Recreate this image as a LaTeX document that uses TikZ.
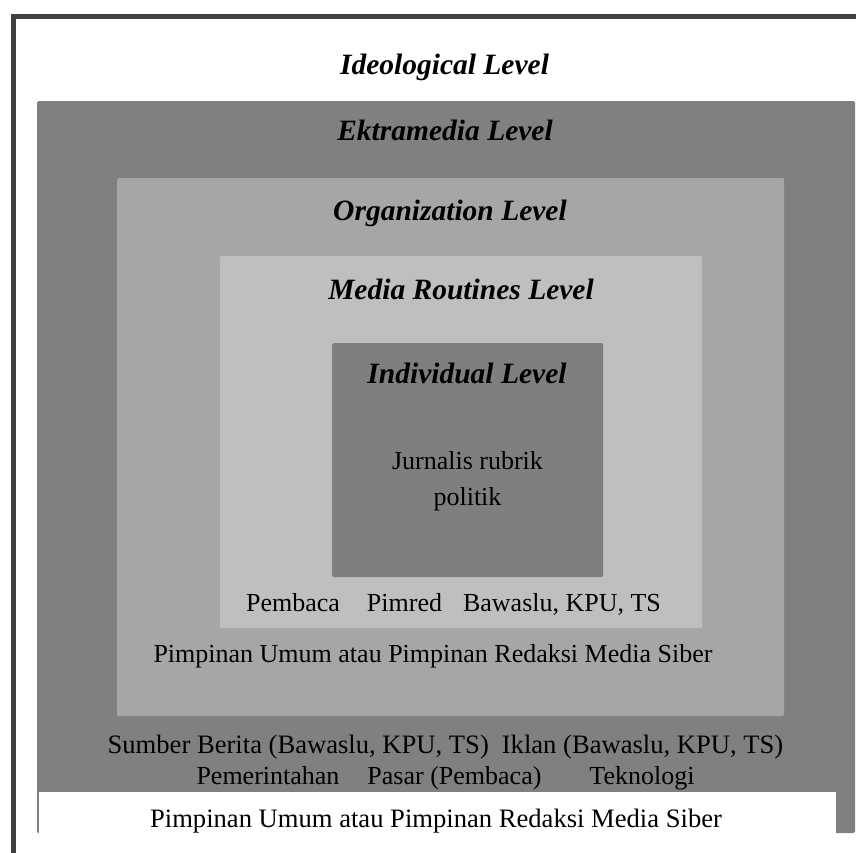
\documentclass[tikz,border=0pt]{standalone}
\usepackage{fontspec}
\setmainfont{Liberation Serif}
\definecolor{framec}{HTML}{404040}
\definecolor{extc}{HTML}{808080}
\definecolor{orgc}{HTML}{A6A6A6}
\definecolor{medc}{HTML}{BFBFBF}
\definecolor{indc}{HTML}{7F7F7F}
\tikzset{
  lvlbox/.style={rounded corners=1.5pt},
  titletext/.style={inner sep=0pt, anchor=base, font=\fontsize{29.5}{34}\selectfont\bfseries\itshape},
  bodytext/.style={inner sep=0pt, anchor=base, font=\fontsize{26}{30}\selectfont},
  bodywide/.style={inner sep=0pt, anchor=base, font=\fontsize{26.6}{30}\selectfont}
}
\begin{document}
\begin{tikzpicture}[x=1pt,y=-1pt]
\useasboundingbox (0,0) rectangle (856,852);
\fill[white] (0,0) rectangle (856,852);
% outer frame (open to the right and bottom)
\draw[framec, line width=5pt] (13.5,860) -- (13.5,16.5) -- (862,16.5);
% level boxes
\fill[extc, lvlbox] (37,101) rectangle (855,833);
\fill[white] (38.5,792) rectangle (836,860);
\fill[orgc, lvlbox] (117,178) rectangle (784,716);
\fill[medc, lvlbox] (220,256) rectangle (702,628);
\fill[indc, lvlbox] (332,343) rectangle (603,577);
% titles
\node[titletext] (ideo) at (444.5,74) {Ideological Level};
\node[titletext] (ext) at (445,140) {Ektramedia Level};
\node[titletext] (org) at (450,220) {Organization Level};
\node[titletext] (med) at (461,299) {Media Routines Level};
\node[titletext] (ind) at (467,383) {Individual Level};
% body texts
\node[bodytext] (jur1) at (467.5,469.3) {Jurnalis rubrik};
\node[bodytext] (jur2) at (467.5,505.7) {politik};
\node[bodytext] (medtxt) at (453.5,611.7) {Pembaca\hspace{27pt}Pimred\hspace{21pt}Bawaslu, KPU, TS};
\node[bodytext] (orgtxt) at (433,662) {Pimpinan Umum atau Pimpinan Redaksi Media Siber};
\node[bodywide] (ext1) at (445.5,753.3) {Sumber Berita (Bawaslu, KPU, TS)\hspace{13pt}Iklan (Bawaslu, KPU, TS)};
\node[bodytext] (ext2) at (445.5,784.3) {Pemerintahan\hspace{28pt}Pasar (Pembaca)\hspace{48pt}Teknologi};
\node[bodywide] (ideotxt) at (436,827) {Pimpinan Umum atau Pimpinan Redaksi Media Siber};
\end{tikzpicture}
\end{document}
